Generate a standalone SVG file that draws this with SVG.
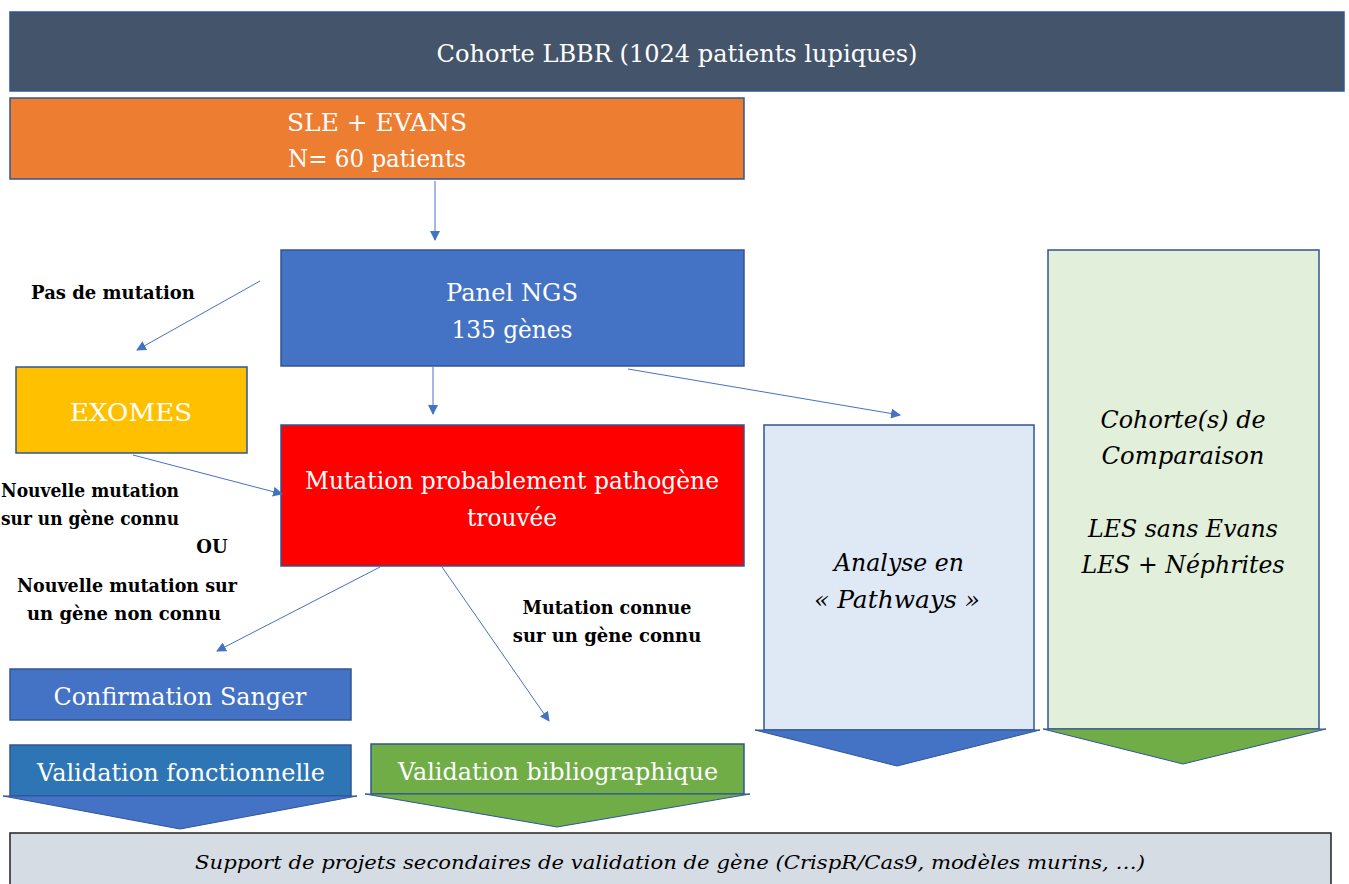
<svg xmlns="http://www.w3.org/2000/svg" width="1349" height="884" viewBox="0 0 1349 884">
<defs>
<marker id="ah" markerWidth="10" markerHeight="10" refX="9" refY="5" orient="auto" markerUnits="userSpaceOnUse">
<path d="M0,0 L10,5 L0,10 Z" fill="#4472c4"/>
</marker>
<style>
.box{stroke:#2f5597;stroke-width:1.5}
.w{fill:#fff;font-size:24px;text-anchor:middle}
.k{fill:#000;font-size:24px;text-anchor:middle;font-style:italic}
.lb{fill:#000;font-size:18px;font-weight:bold;text-anchor:middle}
.c{stroke:#4472c4;stroke-width:1;fill:none}
</style>
</defs>
<rect width="1349" height="884" fill="#fff"/>
<g font-family="DejaVu Serif, Liberation Serif, serif">
<g id="cohorte-lbbr">
<rect class="box" x="10" y="12" width="1334" height="79" fill="#44546a"/>
<text class="w" x="677" y="62" textLength="481" lengthAdjust="spacingAndGlyphs">Cohorte LBBR (1024 patients lupiques)</text>
</g>
<g id="sle-evans">
<rect class="box" x="10" y="98" width="734" height="81" fill="#ed7d31"/>
<text class="w" x="377" y="131" textLength="180" lengthAdjust="spacingAndGlyphs">SLE + EVANS</text>
<text class="w" x="377" y="167" textLength="178" lengthAdjust="spacingAndGlyphs">N= 60 patients</text>
</g>
<g id="panel-ngs">
<rect class="box" x="281" y="250" width="463" height="116" fill="#4472c4"/>
<text class="w" x="512" y="301" textLength="132" lengthAdjust="spacingAndGlyphs">Panel NGS</text>
<text class="w" x="512" y="338" textLength="121" lengthAdjust="spacingAndGlyphs">135 gènes</text>
</g>
<g id="exomes">
<rect class="box" x="16" y="367" width="231" height="86" fill="#ffc000"/>
<text class="w" x="131" y="421" textLength="122" lengthAdjust="spacingAndGlyphs">EXOMES</text>
</g>
<g id="mutation">
<rect class="box" x="281" y="425" width="463" height="141" fill="#ff0000"/>
<text class="w" x="512" y="489" textLength="414" lengthAdjust="spacingAndGlyphs">Mutation probablement pathogène</text>
<text class="w" x="512" y="526" textLength="90" lengthAdjust="spacingAndGlyphs">trouvée</text>
</g>
<g id="confirmation-sanger">
<rect class="box" x="10" y="669" width="341" height="51" fill="#4472c4"/>
<text class="w" x="180" y="705" textLength="253" lengthAdjust="spacingAndGlyphs">Confirmation Sanger</text>
</g>
<g id="validation-fonctionnelle">
<rect class="box" x="10" y="745" width="341" height="51" fill="#2e75b6"/>
<polygon points="3,796 357,796 180,829" fill="#4472c4" stroke="#2f5597" stroke-width="1"/>
<text class="w" x="181" y="781" textLength="288" lengthAdjust="spacingAndGlyphs">Validation fonctionnelle</text>
</g>
<g id="validation-bibliographique">
<rect class="box" x="371" y="744" width="373" height="50" fill="#70ad47"/>
<polygon points="365,794 750,794 557,827" fill="#70ad47" stroke="#2f5597" stroke-width="1"/>
<text class="w" x="558" y="780" textLength="320" lengthAdjust="spacingAndGlyphs">Validation bibliographique</text>
</g>
<g id="analyse-pathways">
<rect class="box" x="764" y="425" width="270" height="305" fill="#dee9f5"/>
<polygon points="755,730 1040,730 897,766" fill="#4472c4" stroke="#2f5597" stroke-width="1"/>
<text class="k" x="899" y="571" textLength="130" lengthAdjust="spacingAndGlyphs">Analyse en</text>
<text class="k" x="897" y="608" textLength="166" lengthAdjust="spacingAndGlyphs">« Pathways »</text>
</g>
<g id="cohortes-comparaison">
<rect class="box" x="1048" y="250" width="271" height="479" fill="#e2efda"/>
<polygon points="1043,729 1326,729 1183,764" fill="#70ad47" stroke="#2f5597" stroke-width="1"/>
<text class="k" x="1183" y="428" textLength="165" lengthAdjust="spacingAndGlyphs">Cohorte(s) de</text>
<text class="k" x="1183" y="464" textLength="163" lengthAdjust="spacingAndGlyphs">Comparaison</text>
<text class="k" x="1183" y="537" textLength="190" lengthAdjust="spacingAndGlyphs">LES sans Evans</text>
<text class="k" x="1183" y="573" textLength="203" lengthAdjust="spacingAndGlyphs">LES + Néphrites</text>
</g>
<g id="support-projets">
<rect x="10" y="833" width="1321" height="60" fill="#d6dce4" stroke="#222" stroke-width="1.5"/>
<text class="k" x="670" y="869" style="font-size:19px" textLength="950" lengthAdjust="spacingAndGlyphs">Support de projets secondaires de validation de gène (CrispR/Cas9, modèles murins, …)</text>
</g>
</g>
<g id="connectors">
<line class="c" x1="435" y1="181" x2="435" y2="240" marker-end="url(#ah)"/>
<line class="c" x1="260" y1="281" x2="137" y2="350" marker-end="url(#ah)"/>
<line class="c" x1="433" y1="367" x2="433" y2="414" marker-end="url(#ah)"/>
<line class="c" x1="133" y1="455" x2="282" y2="494" marker-end="url(#ah)"/>
<line class="c" x1="628" y1="369" x2="900" y2="415" marker-end="url(#ah)"/>
<line class="c" x1="380" y1="567" x2="217" y2="651" marker-end="url(#ah)"/>
<line class="c" x1="442" y1="567" x2="549" y2="721" marker-end="url(#ah)"/>
</g>
<g id="labels" font-family="DejaVu Serif, serif">
<text class="lb" x="113" y="299">Pas de mutation</text>
<text class="lb" x="90" y="497" textLength="178" lengthAdjust="spacingAndGlyphs">Nouvelle mutation</text>
<text class="lb" x="90" y="525" textLength="178" lengthAdjust="spacingAndGlyphs">sur un gène connu</text>
<text class="lb" x="212" y="553">OU</text>
<text class="lb" x="127" y="592" textLength="220" lengthAdjust="spacingAndGlyphs">Nouvelle mutation sur</text>
<text class="lb" x="124" y="620">un gène non connu</text>
<text class="lb" x="607" y="614" textLength="169" lengthAdjust="spacingAndGlyphs">Mutation connue</text>
<text class="lb" x="607" y="642">sur un gène connu</text>
</g>
</svg>
